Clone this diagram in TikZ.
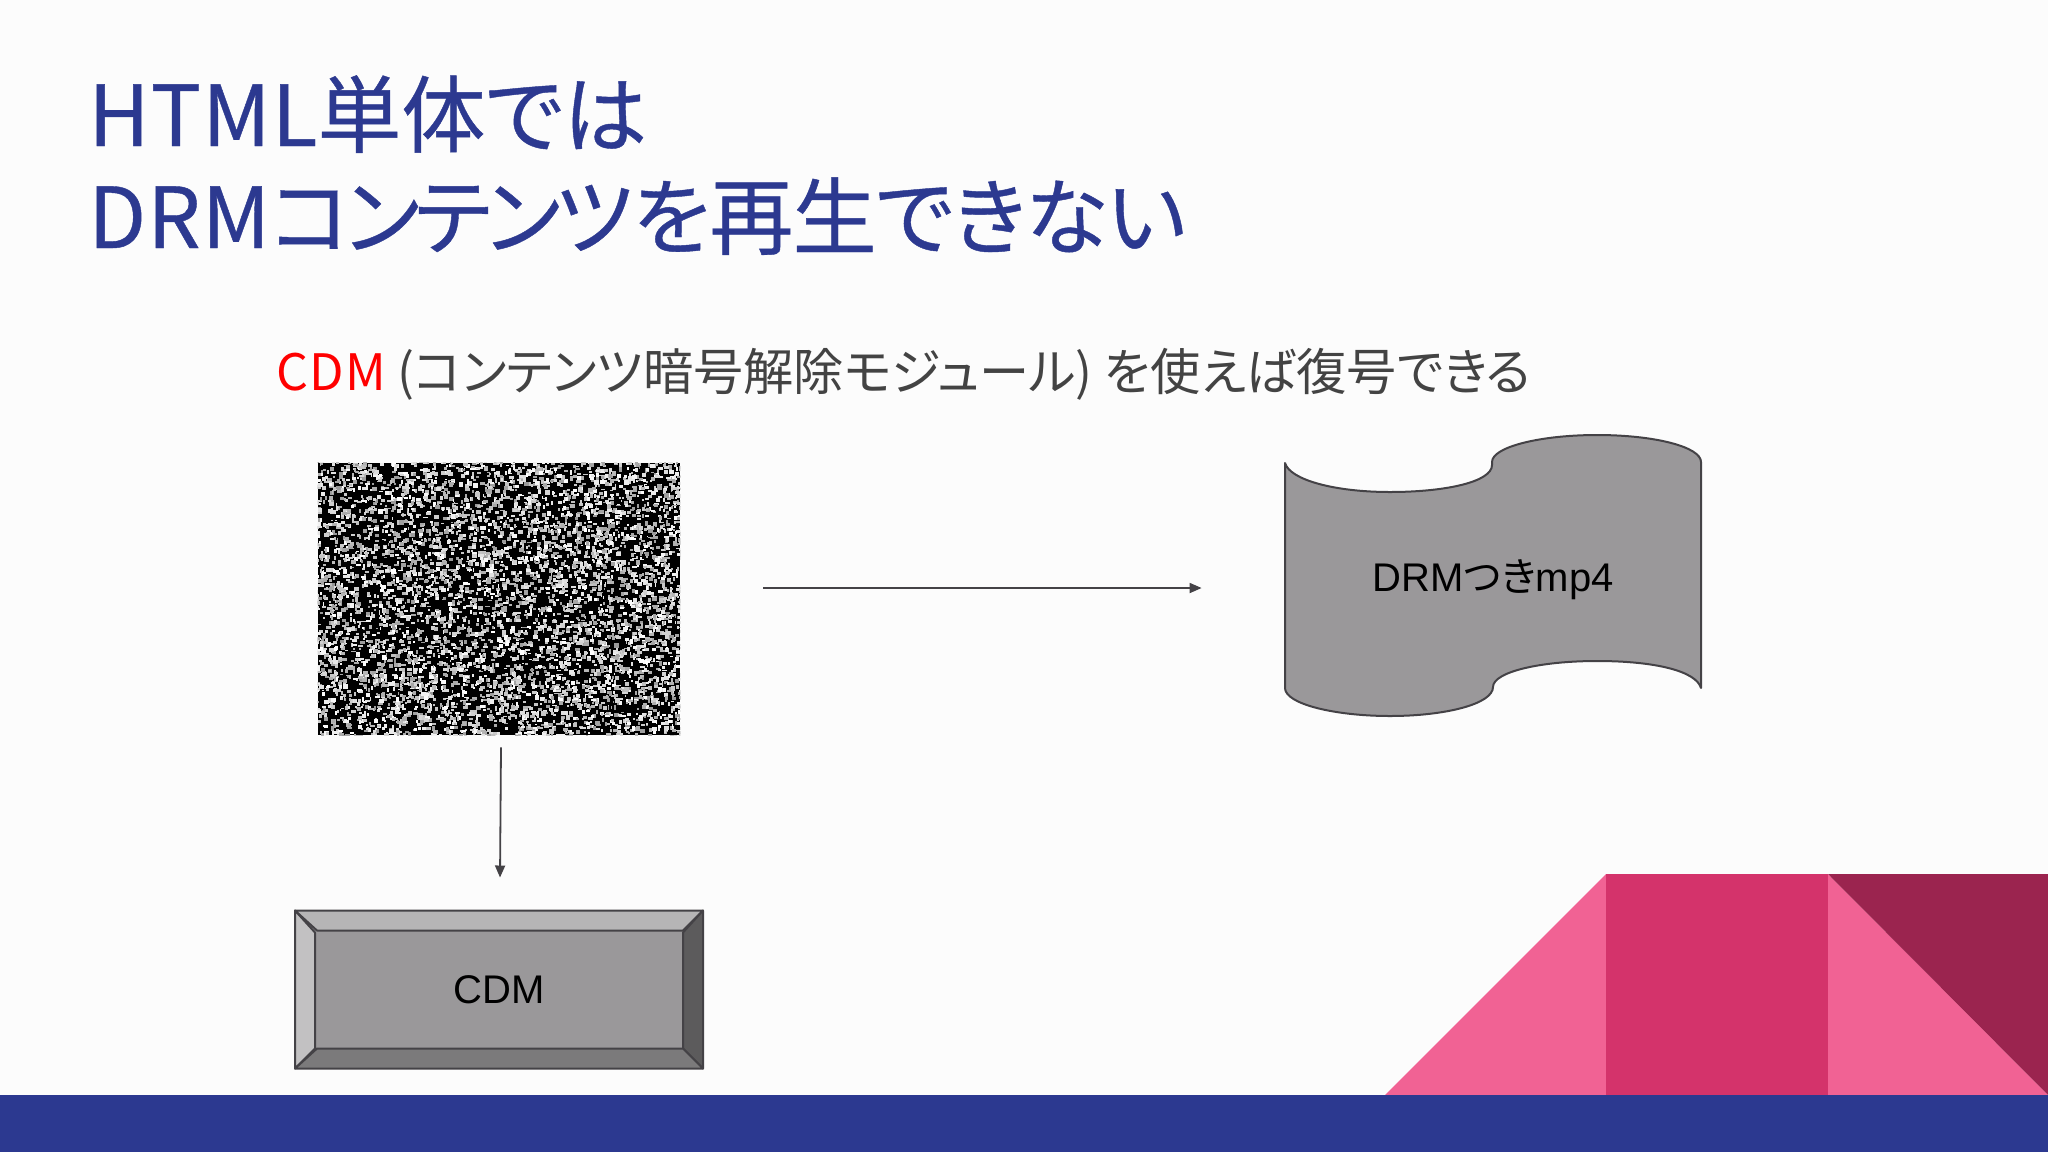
\documentclass[tikz,border=0pt]{standalone}
\usepackage{fontspec}
\usepackage{xcolor}
\setmainfont{Noto Sans}
\newfontfamily\cjk[RawFeature=+palt]{Noto Sans CJK JP}
\newfontfamily\cjklatin[RawFeature=+palt, LetterSpace=2.5]{Noto Sans CJK JP}
\newfontfamily\cjkhead[RawFeature=+palt, FakeBold=0.5]{Noto Sans CJK JP}
\newfontfamily\headlatin[RawFeature=+palt, FakeBold=0.5, LetterSpace=1.5]{Noto Sans CJK JP}
\newfontfamily\headkata[RawFeature=+palt, FakeBold=0.5, LetterSpace=-6]{Noto Sans CJK JP}
\newfontfamily\headtail[RawFeature=+palt, FakeBold=0.5, LetterSpace=-1]{Noto Sans CJK JP}
\newfontfamily\arial{Liberation Sans}
\usetikzlibrary{arrows.meta, positioning, calc}
\definecolor{navyColor}{RGB}{44, 57, 144}
\definecolor{pinkColor}{RGB}{241, 98, 148}
\definecolor{roseColor}{RGB}{212, 51, 107}
\definecolor{wineColor}{RGB}{155, 36, 79}
\definecolor{shapeGray}{RGB}{154, 152, 154}
\definecolor{lineGray}{RGB}{68, 66, 70}
\definecolor{textGray}{RGB}{67, 67, 67}
\definecolor{cdmRed}{RGB}{255, 0, 0}
\tikzset{
    flowline/.style={-{Triangle[length=6pt,width=5pt]}, line width=0.9pt, lineGray},
    bevelface/.style={draw=lineGray, line width=1pt, line join=round},
    shapelabel/.style={text=black, font=\arial\fontsize{20}{24}\selectfont, inner sep=0pt},
    headline/.style={text=navyColor, anchor=base west, inner sep=0pt, font=\cjkhead\fontsize{42}{50}\selectfont}
}

\begin{document}
\begin{tikzpicture}[x=0.5pt, y=-0.5pt]
    \useasboundingbox (0,0) rectangle (2048,1152);
    % Slide background
    \fill[white!99!black] (0,0) rectangle (2048,1152);

    % Bottom corner
    \fill[pinkColor] (1385,1095) -- (1606,874) -- (1828,874) -- (2048,1095) -- cycle;
    \fill[roseColor] (1606,874) rectangle (1828,1095);
    \fill[wineColor] (1828,874) -- (2048,874) -- (2048,1095) -- cycle;
    \fill[navyColor] (0,1095) rectangle (2048,1152);

    % Title
    \node[headline] (titleA) at (88,146) {{\headlatin HTML}単体では};
    \node[headline] (titleB) at (88,248) {{\headlatin DRM}{\headkata コンテンツ}{\headtail を再生できない}};

    % Subtitle
    \node[anchor=base west, inner sep=0pt, text=textGray, font=\cjk\fontsize{25.1}{30}\selectfont] (subtitle) at (276,390)
        {\textcolor{cdmRed}{\cjklatin CDM} (コンテンツ暗号解除モジュール) を使えば復号できる};

    % Noise picture
    \node[fill=black, inner sep=0pt, minimum width=181pt, minimum height=136pt] (noise) at (499,599) {};
    \pgfmathsetseed{42}
    \begin{scope}
        \clip (noise.north west) rectangle (noise.south east);
        \foreach \i in {1,...,5800}{
            \pgfmathsetmacro{\noisex}{rnd*366-3}
            \pgfmathsetmacro{\noisey}{rnd*276-3}
            \pgfmathsetmacro{\noisew}{1.5+rnd*3.5}
            \pgfmathsetmacro{\noiseh}{1.5+rnd*3}
            \pgfmathsetmacro{\noiseshade}{60+40*rnd}
            \fill[white!\noiseshade!black] ($(noise.north west)+(\noisex,\noisey)$) rectangle +(\noisew,\noiseh);
        }
    \end{scope}

    % Scroll
    \draw[fill=shapeGray, draw=lineGray, line width=1pt, line join=round]
        (1285,463) .. controls (1290,480) and (1335,492) .. (1390,492)
        .. controls (1445,492) and (1492,482) .. (1492,465)
        -- (1492,462) .. controls (1492,447) and (1540,435) .. (1597,435)
        .. controls (1655,435) and (1701,447) .. (1701,462)
        -- (1701,688) .. controls (1696,671) and (1655,661) .. (1597,661)
        .. controls (1540,661) and (1493,672) .. (1493,687)
        .. controls (1493,704) and (1445,716) .. (1390,716)
        .. controls (1335,716) and (1285,704) .. (1285,688) -- cycle;
    \node[shapelabel, minimum width=208pt, minimum height=141pt] (drm) at (1493,580) {DRM{\cjk つき}mp4};

    % Bevel box
    \node[fill=shapeGray, draw=lineGray, line width=1pt, minimum width=203pt, minimum height=78pt, shapelabel] (cdm) at (499,989.5) {CDM};
    \draw[bevelface, fill=shapeGray!72!white] (cdm.north west) -- (cdm.north east) -- ++(-20,20) -- ++(-366,0) -- cycle;
    \draw[bevelface, fill=shapeGray!60!white] (cdm.north west) -- (cdm.south west) -- ++(20,-20) -- ++(0,-116) -- cycle;
    \draw[bevelface, fill=shapeGray!60!black] (cdm.north east) -- (cdm.south east) -- ++(-20,-20) -- ++(0,-116) -- cycle;
    \draw[bevelface, fill=shapeGray!80!black] (cdm.south west) -- (cdm.south east) -- ++(-20,-20) -- ++(-366,0) -- cycle;

    % Arrows
    \draw[flowline] ([shift={(83,-11)}]noise.east) -- ([shift={(-83,8)}]drm.west);
    \draw[flowline] ([shift={(2,12)}]noise.south) -- ([shift={(1,-33)}]cdm.north);
\end{tikzpicture}
\end{document}
